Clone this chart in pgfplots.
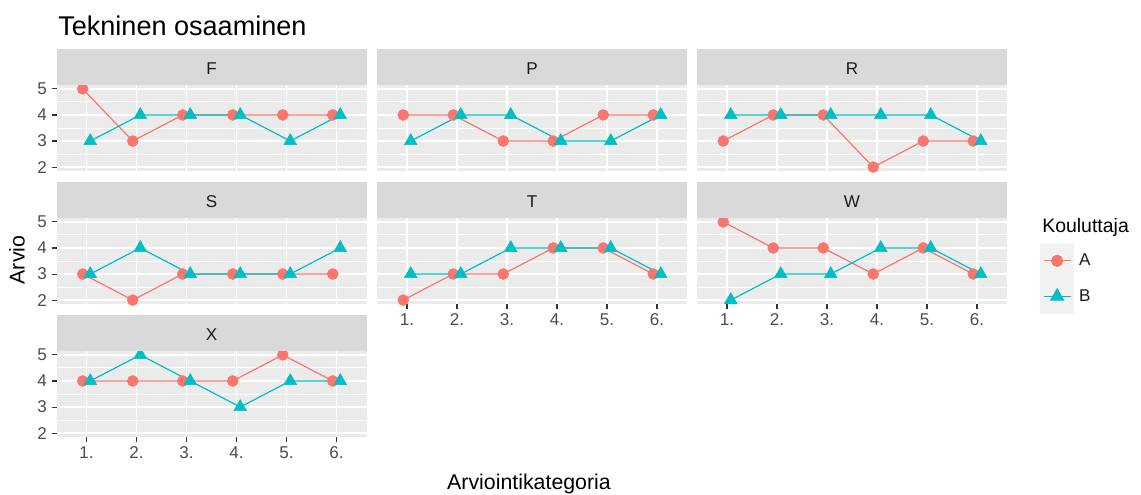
\documentclass[border=0pt]{standalone}
\usepackage{fontspec}
\setmainfont{Liberation Sans}
\usepackage{pgfplots}
\usepackage{pgfplotstable}
\pgfplotsset{compat=1.18}
\definecolor{grey92}{HTML}{EBEBEB}
\definecolor{grey85}{HTML}{D9D9D9}
\definecolor{grey95}{HTML}{F2F2F2}
\definecolor{grey30}{HTML}{4D4D4D}
\definecolor{grey20}{HTML}{333333}
\definecolor{grey10}{HTML}{1A1A1A}
\definecolor{colA}{HTML}{F8766D}
\definecolor{colB}{HTML}{00BFC4}

\pgfplotstableread{
k FA FB PA PB RA RB SA SB TA TB WA WB XA XB
1 5 3 4 3 3 4 3 3 2 3 5 2 4 4
2 3 4 4 4 4 4 2 4 3 3 4 3 4 5
3 4 4 3 4 4 4 3 3 3 4 4 3 4 4
4 4 4 3 3 2 4 3 3 4 4 3 4 4 3
5 4 3 4 3 3 4 3 3 4 4 4 4 5 4
6 4 4 4 4 3 3 3 4 3 3 3 3 4 4
}\datatab

\newcommand{\tickfont}{\fontsize{12.8}{14}\selectfont}
\newcommand{\stripfont}{\fontsize{12.8}{14}\selectfont}

\pgfplotsset{
  panel/.style={
    scale only axis, width=232.5pt, height=64.5pt, anchor=south west,
    xmin=0.4, xmax=6.6, ymin=1.85, ymax=5.15,
    xtick={1,2,3,4,5,6}, xticklabels={1.,2.,3.,4.,5.,6.},
    ytick={2,3,4,5}, minor ytick={2.5,3.5,4.5},
    grid=both,
    major grid style={white, line width=1.4pt},
    minor grid style={white, line width=0.7pt},
    axis background/.style={fill=grey92},
    axis line style={draw=none},
    tick align=outside, tick pos=left,
    major tick length=3.75pt, minor tick length=0pt,
    minor tick style={draw=none},
    tick style={grey20, line width=0.8pt},
    /pgf/number format/assume math mode=true,
    ticklabel style={font=\tickfont, text=grey30},
    every axis title/.style={at={(0.5,1)}, anchor=south, fill=grey85,
      minimum width=232.5pt, minimum height=27pt, inner sep=0pt,
      text height=1.2em, text depth=0pt,
      font=\stripfont, text=grey10},
  },
  noy/.style={yticklabels={}, ytick style={draw=none}},
  nox/.style={xticklabels={}, xtick style={draw=none}},
  lineA/.style={forget plot, draw=colA, line width=0.9pt, mark=none},
  lineB/.style={forget plot, draw=colB, line width=0.9pt, mark=none},
  ptsA/.style={forget plot, only marks, mark=*, mark size=4.1pt, draw=colA, fill=colA},
  ptsB/.style={forget plot, only marks, mark=triangle*, mark size=5.5pt, draw=colB, fill=colB},
}

\newcommand{\panel}[6]{%
\begin{axis}[panel, at={(#1,#2)}, title={#3}, #5]
\addplot[lineA] table[x expr=\thisrow{k}-0.075, y=#4A] {\datatab};
\addplot[lineB] table[x expr=\thisrow{k}+0.075, y=#4B] {\datatab};
\addplot[ptsA] table[x expr=\thisrow{k}-0.075, y=#4A] {\datatab};
\addplot[ptsB] table[x expr=\thisrow{k}+0.075, y=#4B] {\datatab};
#6
\end{axis}}

\begin{document}
\begin{tikzpicture}
\useasboundingbox (0,0) rectangle (855.75pt,370.5pt);
\panel{42.375pt}{242.25pt}{F}{F}{nox}{}
\panel{282.75pt}{242.25pt}{P}{P}{nox,noy}{}
\panel{522.75pt}{242.25pt}{R}{R}{nox,noy}{}
\panel{42.375pt}{142.5pt}{S}{S}{nox}{}
\panel{282.75pt}{142.5pt}{T}{T}{noy}{}
\panel{522.75pt}{142.5pt}{W}{W}{noy,
  legend style={at={(rel axis cs:1.1065,0.709)}, anchor=north west,
    draw=none, fill=none, inner sep=0pt, outer sep=0pt,
    row sep=0pt, column sep=3.75pt,
    nodes={inner sep=0pt, font=\tickfont, text=grey10}},
  legend cell align=left,
  legend image code/.code={%
    \fill[grey95] (0pt,-12.9pt) rectangle (24.75pt,12.9pt);
    \draw[#1, mark repeat=2, mark phase=2] plot coordinates {(2.25pt,0pt) (12.375pt,0pt) (22.5pt,0pt)};
  }}{%
  \addlegendimage{draw=colA, fill=colA, line width=0.9pt, mark=*, mark size=4.1pt, mark options={draw=colA, fill=colA}}
  \addlegendentry{A}
  \addlegendimage{draw=colB, fill=colB, line width=0.9pt, mark=triangle*, mark size=5.5pt, mark options={draw=colB, fill=colB}}
  \addlegendentry{B}
}
\panel{42.375pt}{42.75pt}{X}{X}{}{}
\node[anchor=base west, inner sep=0pt, font=\fontsize{20.3}{23}\selectfont, text=black] at (43.5pt,343.5pt) {Tekninen osaaminen};
\node[anchor=base, inner sep=0pt, font=\fontsize{16}{18}\selectfont, text=black] at (396.75pt,3.75pt) {Arviointikategoria};
\node[anchor=center, inner sep=0pt, rotate=90, font=\fontsize{16}{18}\selectfont, text=black] at (12.75pt,175.5pt) {Arvio};
\node[anchor=base west, inner sep=0pt, font=\fontsize{14.6}{17}\selectfont, text=black] at (781.5pt,196.5pt) {Kouluttaja};
\end{tikzpicture}
\end{document}
